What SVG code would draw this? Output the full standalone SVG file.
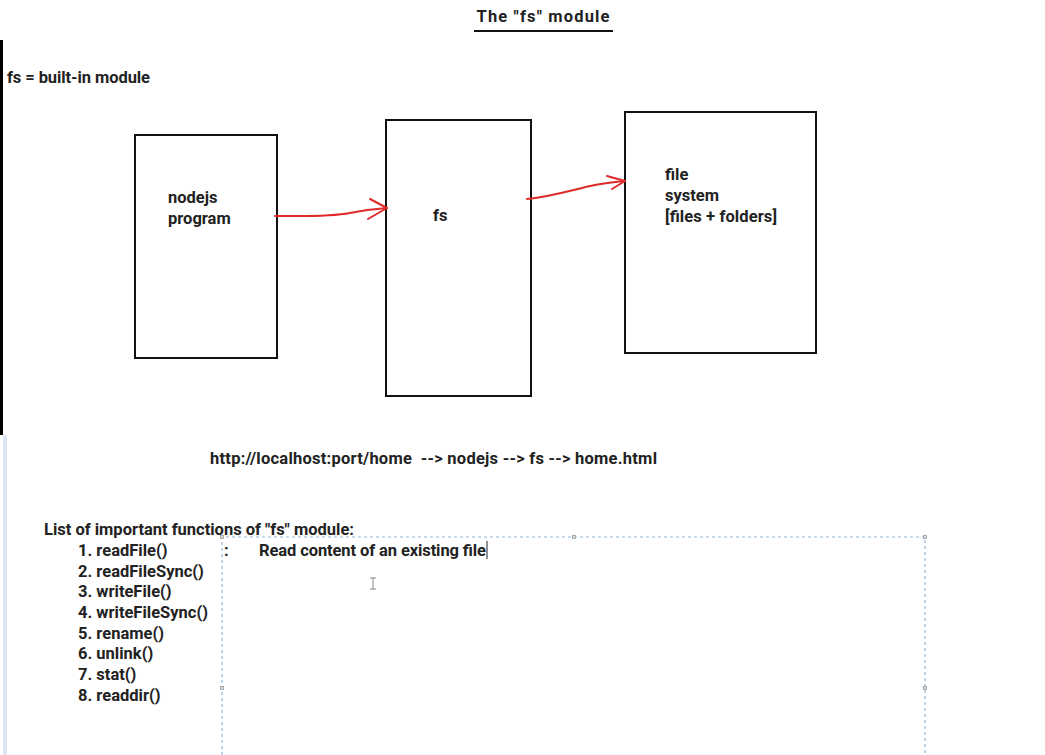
<svg xmlns="http://www.w3.org/2000/svg" width="1045" height="755" viewBox="0 0 1045 755">
<style>
text{font-family:"Roboto","Liberation Sans",sans-serif;font-weight:700;fill:#222;font-size:16.5px}
.box{fill:#fff;stroke:#111;stroke-width:2}
.arr{fill:none;stroke:#e02a2a;stroke-width:2;stroke-linecap:round;stroke-linejoin:round}
.sel{fill:none;stroke:#8fb8dc;stroke-width:1.2;stroke-dasharray:3 3}
.h{fill:#ddd;stroke:#999;stroke-width:0.8}
</style>
<rect width="1045" height="755" fill="#fff"/>
<rect x="0" y="40" width="3" height="395" fill="#000"/>
<rect x="3" y="435" width="4" height="320" fill="#dde6f5"/>
<g id="title">
<text x="543" y="22" text-anchor="middle" font-size="19.5" textLength="133">The "fs" module</text>
<line x1="474" y1="31" x2="613" y2="31" stroke="#111" stroke-width="2"/>
</g>
<text x="7" y="83" textLength="143">fs = built-in module</text>
<g id="node-nodejs">
<rect class="box" x="135" y="135" width="142" height="223"/>
<text x="168" y="203">nodejs</text>
<text x="168" y="224">program</text>
</g>
<g id="node-fs">
<rect class="box" x="386" y="120" width="145" height="276"/>
<text x="433" y="221">fs</text>
</g>
<g id="node-filesystem">
<rect class="box" x="625" y="112" width="191" height="241"/>
<text x="665" y="180">file</text>
<text x="665" y="201">system</text>
<text x="665" y="222" textLength="112">[files + folders]</text>
</g>
<g id="connectors">
<path class="arr" d="M275,216 C300,216 330,217 350,213 C365,210 375,209 387,208"/>
<path class="arr" d="M370,199 L387,208 L368,219"/>
<path class="arr" d="M527,199 C555,196 575,189 595,185 C605,183 615,182 625,181"/>
<path class="arr" d="M607,176 L625,181 L612,189"/>
</g>
<text x="210" y="464" xml:space="preserve" textLength="447">http://localhost:port/home  --&gt; nodejs --&gt; fs --&gt; home.html</text>
<text x="44" y="535" textLength="310">List of important functions of "fs" module:</text>
<g id="list">
<text x="78" y="556">1. readFile()</text>
<text x="78" y="577">2. readFileSync()</text>
<text x="78" y="597">3. writeFile()</text>
<text x="78" y="618">4. writeFileSync()</text>
<text x="78" y="639">5. rename()</text>
<text x="78" y="659">6. unlink()</text>
<text x="78" y="680">7. stat()</text>
<text x="78" y="701">8. readdir()</text>
</g>
<g id="textbox">
<path class="sel" d="M222,755 L222,537 L925,537 L925,755"/>
<rect class="h" x="220.5" y="535.5" width="3" height="3"/>
<rect class="h" x="572.5" y="535.5" width="3" height="3"/>
<rect class="h" x="923.5" y="535.5" width="3" height="3"/>
<rect class="h" x="923.5" y="686.5" width="3" height="3"/>
<rect class="h" x="220.5" y="686.5" width="3" height="3"/>
<text x="224" y="556">:</text>
<text x="259" y="556" textLength="227">Read content of an existing file</text>
<line x1="487" y1="541" x2="487" y2="559" stroke="#222" stroke-width="1"/>
<path d="M370,578 L376,578 M373,578 L373,589 M370,589 L376,589" stroke="#888" stroke-width="1" fill="none"/>
</g>
</svg>
